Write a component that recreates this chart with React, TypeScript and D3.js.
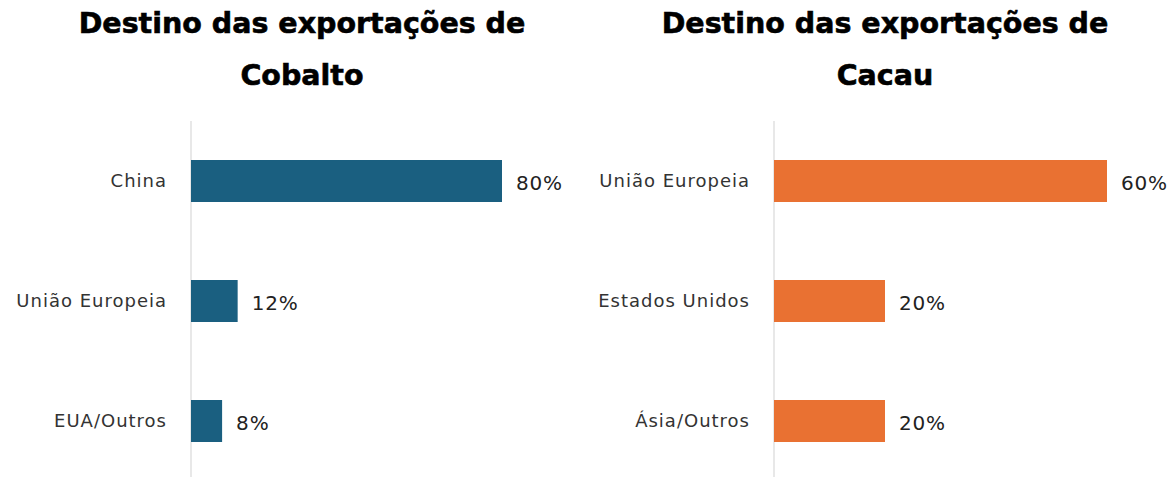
import React from "react";
import * as d3 from "d3";

const cobaltoCategories = ["China", "União Europeia", "EUA/Outros"];
const cobaltoValues = [80, 12, 8];
const cacauCategories = ["União Europeia", "Estados Unidos", "Ásia/Outros"];
const cacauValues = [60, 20, 20];
const titles = [
  ["Destino das exportações de", "Cobalto"],
  ["Destino das exportações de", "Cacau"],
];

const W = 1172;
const H = 477;
const FONT = "'DejaVu Sans', Inter, sans-serif";

type PanelProps = {
  cats: string[];
  vals: number[];
  color: string;
  x0: number;
  x1: number;
  titleX: number;
  title: string[];
};

function Panel({ cats, vals, color, x0, x1, titleX, title }: PanelProps) {
  const x = d3.scaleLinear().domain([0, d3.max(vals) as number]).range([x0, x1]);
  const y = d3
    .scaleBand<string>()
    .domain(cats)
    .range([121, 481])
    .paddingInner(0.65)
    .paddingOuter(0.325);
  return (
    <g>
      <text x={titleX} y={33} textAnchor="middle" fontFamily={FONT} fontWeight={700} fontSize={28.5} fill="#000" stroke="#000" strokeWidth={0.6}>
        {title[0]}
      </text>
      <text x={titleX} y={85} textAnchor="middle" fontFamily={FONT} fontWeight={700} fontSize={28.5} fill="#000" stroke="#000" strokeWidth={0.6}>
        {title[1]}
      </text>
      <line x1={x0} x2={x0} y1={121} y2={H} stroke="#e0e0e0" strokeWidth={1.5} />
      {cats.map((c, i) => {
        const yy = y(c) as number;
        const bw = y.bandwidth();
        return (
          <g key={c}>
            <rect x={x(0)} y={yy} width={x(vals[i]) - x(0)} height={bw} fill={color} />
            <text
              x={x0 - 24}
              y={yy + bw / 2}
              dy="0.35em"
              textAnchor="end"
              fontFamily={FONT}
              fontSize={18}
              letterSpacing={1}
              fill="#333"
            >
              {c}
            </text>
            <text
              x={x(vals[i]) + 14}
              y={yy + bw / 2 + 2}
              dy="0.35em"
              textAnchor="start"
              fontFamily={FONT}
              fontSize={20}
              letterSpacing={0.8}
              fill="#222"
            >
              {vals[i]}%
            </text>
          </g>
        );
      })}
    </g>
  );
}

export default function App() {
  return (
    <svg
      width={W}
      height={H}
      style={{ position: "absolute", left: 0, top: 0, background: "#fff" }}
    >
      <rect width={W} height={H} fill="#fff" />
      <Panel
        cats={cobaltoCategories}
        vals={cobaltoValues}
        color="#1a5f80"
        x0={191}
        x1={502}
        titleX={302}
        title={titles[0]}
      />
      <Panel
        cats={cacauCategories}
        vals={cacauValues}
        color="#e97132"
        x0={774}
        x1={1107}
        titleX={885}
        title={titles[1]}
      />
    </svg>
  );
}
